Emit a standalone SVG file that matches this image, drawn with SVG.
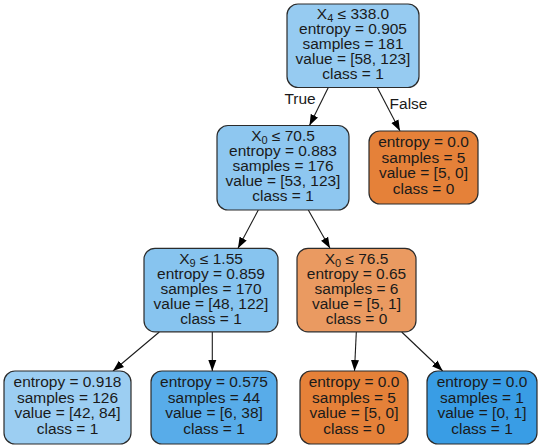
<svg xmlns="http://www.w3.org/2000/svg" width="540" height="448" viewBox="0 0 540 448">
<style>
.box{stroke:#2b2b2b;stroke-width:1.2}
.t{font-family:"Liberation Sans",Arial,sans-serif;font-size:14px;fill:#1a1a1a;text-anchor:middle}
.sub{font-size:10px}
.edge{stroke:#1a1a1a;stroke-width:1.1;fill:none}
.lbl{font-family:"Liberation Sans",Arial,sans-serif;font-size:14px;fill:#1a1a1a;text-anchor:middle}
</style>
<defs>
<marker id="arr" markerUnits="userSpaceOnUse" markerWidth="12" markerHeight="10" viewBox="0 -5 12 10" refX="11" refY="0" orient="auto">
<path d="M0,-4 L11,0 L0,4 z" fill="#000"/>
</marker>
</defs>
<rect width="540" height="448" fill="#fff"/>
<g id="edges">
<line class="edge" x1="328.3" y1="87.5" x2="309.5" y2="125.5" marker-end="url(#arr)"/>
<line class="edge" x1="377.3" y1="87.5" x2="400" y2="131" marker-end="url(#arr)"/>
<line class="edge" x1="258.3" y1="210" x2="238" y2="248.3" marker-end="url(#arr)"/>
<line class="edge" x1="308.3" y1="210" x2="330" y2="248.3" marker-end="url(#arr)"/>
<line class="edge" x1="159.3" y1="332" x2="113" y2="371" marker-end="url(#arr)"/>
<line class="edge" x1="212.3" y1="332" x2="212.3" y2="371" marker-end="url(#arr)"/>
<line class="edge" x1="356.3" y1="332" x2="354.5" y2="371" marker-end="url(#arr)"/>
<line class="edge" x1="401.7" y1="332" x2="442.7" y2="371" marker-end="url(#arr)"/>
<g transform="translate(300,0) scale(1.105,1)"><text class="lbl" x="0" y="104">True</text></g>
<g transform="translate(408.5,0) scale(1.105,1)"><text class="lbl" x="0" y="109.5">False</text></g>
</g>
<g id="n0">
<rect class="box" x="287" y="4" width="132" height="83.5" rx="11" fill="#96cbf1"/>
<g transform="translate(353,0) scale(1.105,1)">
<text class="t" x="0" y="19.5">X<tspan class="sub" dy="3">4</tspan><tspan dy="-3"> ≤ 338.0</tspan></text>
<text class="t" x="0" y="34.5">entropy = 0.905</text>
<text class="t" x="0" y="49.5">samples = 181</text>
<text class="t" x="0" y="64.5">value = [58, 123]</text>
<text class="t" x="0" y="79.5">class = 1</text>
</g>
</g>
<g id="n1">
<rect class="box" x="217" y="125.5" width="132" height="84.5" rx="11" fill="#8ec7f0"/>
<g transform="translate(283,0) scale(1.105,1)">
<text class="t" x="0" y="141.3">X<tspan class="sub" dy="3">0</tspan><tspan dy="-3"> ≤ 70.5</tspan></text>
<text class="t" x="0" y="156.3">entropy = 0.883</text>
<text class="t" x="0" y="171.3">samples = 176</text>
<text class="t" x="0" y="186.3">value = [53, 123]</text>
<text class="t" x="0" y="201.3">class = 1</text>
</g>
</g>
<g id="n8">
<rect class="box" x="369" y="131" width="109" height="73" rx="11" fill="#e58139"/>
<g transform="translate(423.5,0) scale(1.105,1)">
<text class="t" x="0" y="147.5">entropy = 0.0</text>
<text class="t" x="0" y="163">samples = 5</text>
<text class="t" x="0" y="178.5">value = [5, 0]</text>
<text class="t" x="0" y="194.5">class = 0</text>
</g>
</g>
<g id="n2">
<rect class="box" x="144" y="248.3" width="134" height="83.5" rx="11" fill="#87c4ef"/>
<g transform="translate(211,0) scale(1.105,1)">
<text class="t" x="0" y="263.8">X<tspan class="sub" dy="3">9</tspan><tspan dy="-3"> ≤ 1.55</tspan></text>
<text class="t" x="0" y="278.8">entropy = 0.859</text>
<text class="t" x="0" y="293.8">samples = 170</text>
<text class="t" x="0" y="308.8">value = [48, 122]</text>
<text class="t" x="0" y="323.8">class = 1</text>
</g>
</g>
<g id="n5">
<rect class="box" x="297" y="248.3" width="119" height="83.5" rx="11" fill="#ea9a61"/>
<g transform="translate(356.5,0) scale(1.105,1)">
<text class="t" x="0" y="263.8">X<tspan class="sub" dy="3">0</tspan><tspan dy="-3"> ≤ 76.5</tspan></text>
<text class="t" x="0" y="278.8">entropy = 0.65</text>
<text class="t" x="0" y="293.8">samples = 6</text>
<text class="t" x="0" y="308.8">value = [5, 1]</text>
<text class="t" x="0" y="323.8">class = 0</text>
</g>
</g>
<g id="n3">
<rect class="box" x="4" y="371" width="127" height="73" rx="11" fill="#9ccef2"/>
<g transform="translate(67.5,0) scale(1.105,1)">
<text class="t" x="0" y="387.5">entropy = 0.918</text>
<text class="t" x="0" y="403">samples = 126</text>
<text class="t" x="0" y="418.5">value = [42, 84]</text>
<text class="t" x="0" y="434.5">class = 1</text>
</g>
</g>
<g id="n4">
<rect class="box" x="151" y="371" width="126" height="73" rx="11" fill="#58ace9"/>
<g transform="translate(214,0) scale(1.105,1)">
<text class="t" x="0" y="387.5">entropy = 0.575</text>
<text class="t" x="0" y="403">samples = 44</text>
<text class="t" x="0" y="418.5">value = [6, 38]</text>
<text class="t" x="0" y="434.5">class = 1</text>
</g>
</g>
<g id="n6">
<rect class="box" x="300" y="371" width="108" height="73" rx="11" fill="#e58139"/>
<g transform="translate(354,0) scale(1.105,1)">
<text class="t" x="0" y="387.5">entropy = 0.0</text>
<text class="t" x="0" y="403">samples = 5</text>
<text class="t" x="0" y="418.5">value = [5, 0]</text>
<text class="t" x="0" y="434.5">class = 0</text>
</g>
</g>
<g id="n7">
<rect class="box" x="427" y="371" width="110" height="73" rx="11" fill="#399de5"/>
<g transform="translate(482,0) scale(1.105,1)">
<text class="t" x="0" y="387.5">entropy = 0.0</text>
<text class="t" x="0" y="403">samples = 1</text>
<text class="t" x="0" y="418.5">value = [0, 1]</text>
<text class="t" x="0" y="434.5">class = 1</text>
</g>
</g>
</svg>
